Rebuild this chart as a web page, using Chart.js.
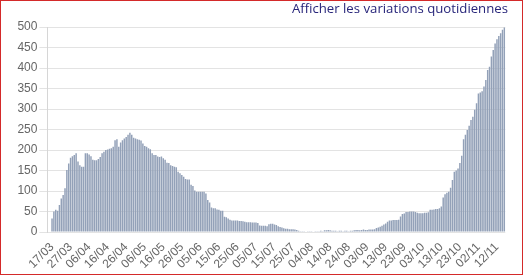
<!DOCTYPE html>
<html>
<head>
<meta charset="utf-8">
<script src="https://cdn.jsdelivr.net/npm/chart.js@4"></script>
<style>
html,body{margin:0;padding:0;background:#fff;overflow:hidden;}
#wrap{position:absolute;left:0;top:0;width:523px;height:276px;}
#title{position:absolute;right:15px;top:-1px;font-family:'Open Sans',sans-serif;font-size:13.2px;line-height:18px;color:#27257a;white-space:nowrap;}
#frame{position:absolute;left:0;top:0;width:521px;height:273px;border:1px solid #d42a2a;pointer-events:none;}
</style>
</head>
<body>
<div id="wrap"><canvas id="c" width="523" height="276" style="width:523px;height:276px"></canvas></div>
<div id="title">Afficher les variations quotidiennes</div>
<div id="frame"></div>
<script>
// Daily values, 17/03 -> 16/11
const values = [
  33, 50, 54, 52, 66, 82, 90, 107, 151, 167,
  181, 185, 188, 192, 172, 163, 159, 159, 192, 192,
  189, 185, 176, 175, 175, 178, 183, 192, 196, 200,
  201, 203, 204, 208, 224, 226, 208, 218, 224, 228,
  232, 237, 242, 237, 230, 228, 226, 225, 223, 216,
  210, 208, 204, 202, 192, 188, 188, 184, 183, 184,
  180, 176, 169, 168, 163, 161, 159, 158, 147, 143,
  139, 135, 129, 128, 128, 115, 112, 101, 98, 98,
  98, 98, 98, 94, 78, 72, 60, 58, 58, 55,
  54, 52, 52, 37, 36, 33, 30, 28, 28, 28,
  28, 27, 27, 26, 25, 24, 24, 24, 23, 23,
  23, 22, 16, 15, 15, 15, 14, 19, 20, 20,
  18, 17, 14, 12, 11, 9, 8, 8, 7, 7,
  7, 6, 5, 3, 2, 2, 2, 1, 2, 2,
  2, 1, 2, 2, 2, 3, 2, 4, 4, 5,
  4, 3, 3, 3, 2, 3, 3, 2, 3, 3,
  2, 3, 3, 4, 5, 5, 4, 5, 6, 5,
  5, 6, 6, 6, 7, 10, 11, 13, 15, 18,
  21, 25, 28, 28, 29, 29, 29, 30, 38, 44,
  45, 49, 49, 50, 50, 50, 49, 47, 46, 46,
  46, 47, 47, 48, 54, 54, 55, 56, 56, 58,
  62, 84, 92, 96, 98, 108, 127, 147, 150, 155,
  168, 186, 226, 237, 249, 259, 273, 281, 298, 314,
  338, 340, 343, 355, 371, 395, 403, 428, 444, 460,
  470, 478, 485, 493, 499
];

// Categories: one per day starting 17/03
const startDate = [2020, 2, 17];
const categories = values.map((_, i) => {
  const d = new Date(Date.UTC(startDate[0], startDate[1], startDate[2] + i));
  return String(d.getUTCDate()).padStart(2, '0') + '/' + String(d.getUTCMonth() + 1).padStart(2, '0');
});

const tickLabels = ['17/03','27/03','06/04','16/04','26/04','06/05','16/05','26/05','05/06','15/06',
  '25/06','05/07','15/07','25/07','04/08','14/08','24/08','03/09','13/09','23/09',
  '03/10','13/10','23/10','02/11','12/11'];
const yTicks = [0, 50, 100, 150, 200, 250, 300, 350, 400, 450, 500];

const tickIndex = tickLabels.map(l => categories.indexOf(l));
const font = {family: "'Liberation Sans', Arial, sans-serif", size: 12};

new Chart(document.getElementById('c'), {
  type: 'bar',
  data: {
    datasets: [{
      data: values.map((v, i) => ({x: i, y: v})),
      backgroundColor: '#93a1b8',
      borderWidth: 0,
      barPercentage: 1,
      categoryPercentage: 0.8
    }]
  },
  options: {
    responsive: false,
    animation: false,
    layout: {padding: {left: 0, right: 17.7, top: 27, bottom: 0}},
    plugins: {legend: {display: false}, tooltip: {enabled: false}, title: {display: false}},
    scales: {
      x: {
        type: 'linear',
        min: -2.5,
        max: values.length - 0.5,
        offset: false,
        grid: {display: false, drawTicks: false},
        border: {display: false},
        afterBuildTicks: ax => { ax.ticks = tickIndex.map(v => ({value: v})); },
        ticks: {
          autoSkip: false, minRotation: 45, maxRotation: 45, padding: 8,
          color: '#666666', font: font,
          callback: v => categories[v]
        },
        afterFit: s => { s.height = 44; }
      },
      y: {
        min: 0, max: 500,
        afterBuildTicks: ax => { ax.ticks = yTicks.map(v => ({value: v})); },
        ticks: {padding: 2, color: '#666666', font: font},
        grid: {color: '#e3e3e3', tickLength: 8},
        border: {color: '#d6d6d6'},
        afterFit: s => { s.width = 47.4; }
      }
    }
  }
});
</script>
</body>
</html>
